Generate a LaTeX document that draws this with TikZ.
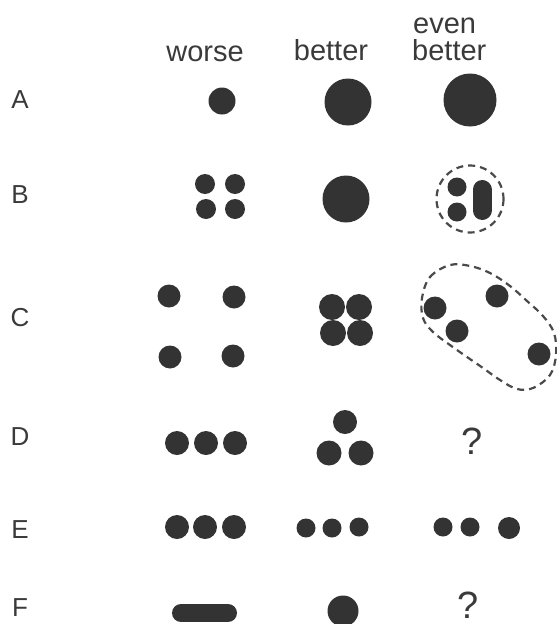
\documentclass[tikz,border=0pt]{standalone}
\usepackage{fontspec}
\setmainfont{Liberation Sans}
\definecolor{ink}{HTML}{333333}
\definecolor{txt}{HTML}{3a3a3a}
\definecolor{dash}{HTML}{4a4a4a}
\begin{document}
\begin{tikzpicture}[x=1pt,y=-1pt,
  dot/.style={fill=ink},
  pill/.style={draw=ink,line cap=round},
  lbl/.style={text=txt,inner sep=0pt,font=\fontsize{26}{28}\selectfont},
  hdr/.style={text=txt,inner sep=0pt,font=\fontsize{29}{31}\selectfont,anchor=base},
  qmark/.style={text=txt,inner sep=0pt,font=\fontsize{38}{40}\selectfont},
  ring/.style={draw=dash,dash pattern=on 7pt off 5pt,line width=2.2pt}]
\useasboundingbox (0,0) rectangle (557,624);
% headers
\node[hdr] (hw) at (205,61) {worse};
\node[hdr] (hb) at (331,60) {better};
\node[hdr,anchor=base west] (he1) at (413,33) {even};
\node[hdr,anchor=base west] (he2) at (412,60) {better};
% row labels
\node[lbl] (lA) at (20,100) {A};
\node[lbl] (lB) at (20,195) {B};
\node[lbl] (lC) at (20,318) {C};
\node[lbl] (lD) at (20,437) {D};
\node[lbl] (lE) at (20,530) {E};
\node[lbl] (lF) at (20,608) {F};
% row A
\fill[dot] (222,101) circle (13.5);
\fill[dot] (348,102) circle (23.5);
\fill[dot] (470,100) circle (26.5);
% row B
\fill[dot] (205,184) circle (10);
\fill[dot] (235,184) circle (10);
\fill[dot] (206,209) circle (10);
\fill[dot] (235,209) circle (10);
\fill[dot] (346,199) circle (23.5);
\fill[dot] (457,187) circle (9.5);
\fill[dot] (457,212) circle (9.5);
\draw[pill,line width=19pt] (482,189.5) -- (482,210.5);
\draw[ring] (470,199) circle (33.5);
% row C
\fill[dot] (169,296) circle (11.5);
\fill[dot] (234,297) circle (11.5);
\fill[dot] (170,357) circle (11.5);
\fill[dot] (233,356) circle (11.5);
\fill[dot] (332,307) circle (13);
\fill[dot] (359,307) circle (13);
\fill[dot] (333,333) circle (13);
\fill[dot] (360,333) circle (13);
\fill[dot] (435,308) circle (11.5);
\fill[dot] (497,296) circle (11.5);
\fill[dot] (457,331) circle (11.5);
\fill[dot] (539,354) circle (11.5);
\draw[ring] plot[smooth cycle,tension=0.6] coordinates {
  (422,298) (430,277) (450,265) (470,266) (490,273) (510,286) (527,301)
  (543,316) (554,333) (556,355) (550,375) (533,388) (517,389) (500,380)
  (483,368) (467,357) (450,345) (433,332) (423,318)};
% row D
\fill[dot] (177,443) circle (12);
\fill[dot] (206,443) circle (12);
\fill[dot] (235,443) circle (12);
\fill[dot] (345,422) circle (12);
\fill[dot] (329,453) circle (12.5);
\fill[dot] (361,453) circle (12.5);
\node[qmark] (qD) at (472,441) {?};
% row E
\fill[dot] (177,527) circle (12);
\fill[dot] (205,527) circle (12);
\fill[dot] (234,527) circle (12);
\fill[dot] (306,528) circle (9.5);
\fill[dot] (332,528) circle (9.5);
\fill[dot] (359,527) circle (9.5);
\fill[dot] (443,527) circle (9.5);
\fill[dot] (470,527) circle (9.5);
\fill[dot] (509,528) circle (11);
% row F
\draw[pill,line width=18pt] (181,613) -- (228,613);
\fill[dot] (343,611) circle (15.5);
\node[qmark] (qF) at (468,605) {?};
\end{tikzpicture}
\end{document}
